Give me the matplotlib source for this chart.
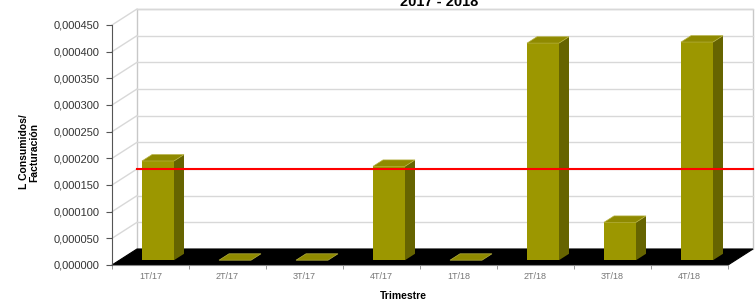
import numpy as np
import matplotlib
matplotlib.use("Agg")
import matplotlib.pyplot as plt
from matplotlib.patches import Polygon
from matplotlib.ticker import FuncFormatter, MultipleLocator

plt.rcParams['font.family'] = ['Liberation Sans', 'DejaVu Sans']

# datos
trimestres = ['1T/17', '2T/17', '3T/17', '4T/17', '1T/18', '2T/18', '3T/18', '4T/18']
consumo = [0.000186, 0.0, 0.0, 0.000176, 0.0, 0.000407, 0.000071, 0.000409]
referencia = 0.000150
titulo = '2017 - 2018'

W, H = 756, 302
fig = plt.figure(figsize=(W / 100, H / 100), dpi=100)
# plano frontal del grafico 3D (en pixeles de la imagen)
x0, x1, ytop, ybot = 112, 728, 25, 265
ax = fig.add_axes([x0 / W, (H - ybot) / H, (x1 - x0) / W, (ybot - ytop) / H])
ymax = 0.00045
n = len(trimestres)
ax.set_xlim(-0.5, n - 0.5)
ax.set_ylim(0, ymax)

# pixeles -> unidades de datos
sx = n / (x1 - x0)
sy = ymax / (ybot - ytop)
DX, DY = 25, 16  # profundidad del grafico en pixeles


def off(d):
    return d * DX * sx, d * DY * sy


bx, by = off(1)

# pared del fondo
pared = Polygon([(-0.5 + bx, by), (n - 0.5 + bx, by), (n - 0.5 + bx, ymax + by), (-0.5 + bx, ymax + by)],
                closed=True, facecolor='white', edgecolor='#c8c8c8', lw=1, clip_on=False, zorder=0)
ax.add_patch(pared)
ticks = np.arange(0, ymax + 1e-9, 0.00005)
for v in ticks[1:]:
    ax.plot([-0.5 + bx, n - 0.5 + bx], [v + by, v + by], color='#d8d8d8', lw=1, clip_on=False, zorder=1)
    ax.plot([-0.5, -0.5 + bx], [v, v + by], color='#d8d8d8', lw=1, clip_on=False, zorder=1)

# suelo negro
suelo = Polygon([(-0.5, 0), (n - 0.5, 0), (n - 0.5 + bx, by), (-0.5 + bx, by)],
                closed=True, facecolor='black', edgecolor='black', lw=0.8, clip_on=False, zorder=2)
ax.add_patch(suelo)

# barras con efecto 3D
ancho = 32 * sx
fx, fy = off(0.3)
tx, ty = off(0.7)
pos = np.arange(n)
ax.bar(pos + fx, consumo, width=ancho, bottom=fy, color='#9c9700', edgecolor='none', zorder=4)
for c, h in zip(pos, consumo):
    l, r = c - ancho / 2 + fx, c + ancho / 2 + fx
    lado = [(r, fy), (r + tx - fx, ty), (r + tx - fx, h + ty), (r, h + fy)]
    tapa = [(l, h + fy), (r, h + fy), (r + tx - fx, h + ty), (l + tx - fx, h + ty)]
    if h > 0:
        ax.add_patch(Polygon(lado, closed=True, facecolor='#666400', edgecolor='none', zorder=4, clip_on=False))
    ax.add_patch(Polygon(tapa, closed=True, facecolor='#8f8a00', edgecolor='#b5b040', lw=0.5,
                         zorder=5, clip_on=False))

# linea roja de referencia
ax.plot([-0.5 + bx, n - 0.5 + bx], [referencia + by, referencia + by], color='red', lw=1.5,
        clip_on=False, zorder=6)

# ejes
for s in ['top', 'right']:
    ax.spines[s].set_visible(False)
ax.spines['left'].set_color('#555555')
ax.spines['bottom'].set_color('#888888')
ax.spines['left'].set_zorder(7)
ax.yaxis.set_major_locator(MultipleLocator(0.00005))
ax.yaxis.set_major_formatter(FuncFormatter(lambda v, p: f'{v:.6f}'.replace('.', ',')))
ax.tick_params(axis='y', labelsize=8, labelcolor='#333333', color='#555555', length=4, pad=5)
ax.set_xticks(pos)
ax.set_xticklabels(trimestres)
ax.set_xticks(np.arange(-0.5, n), minor=True)
ax.tick_params(axis='x', which='major', length=0, labelsize=6.5, labelcolor='#777777', pad=5)
ax.tick_params(axis='x', which='minor', length=3, color='#888888')

fig.text(29 / W, (H - 152) / H, 'L Consumidos/\nFacturación', rotation=90, ha='center', va='center',
         fontsize=7.5, fontweight='bold', multialignment='center', linespacing=1.0)
fig.text(403 / W, (H - 296) / H, 'Trimestre', ha='center', va='center', fontsize=7.5, fontweight='bold')
fig.text(439 / W, (H - 6) / H, titulo, ha='center', va='baseline', fontsize=10.5, fontweight='bold')

fig.savefig('out.png', dpi=100)
